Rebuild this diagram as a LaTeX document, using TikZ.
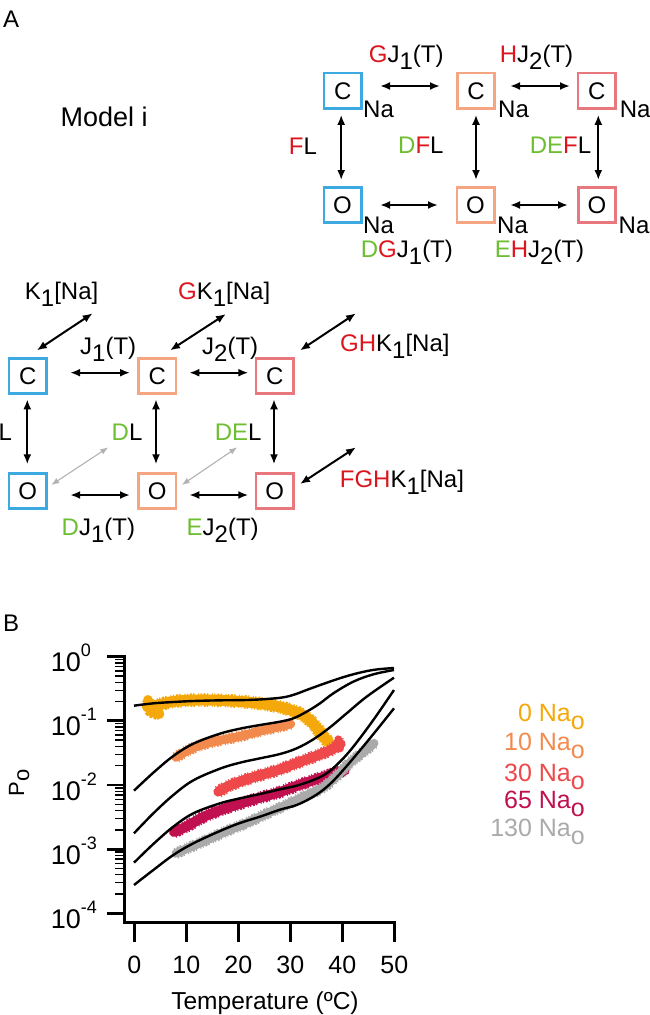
\documentclass[tikz,border=0pt]{standalone}
\usepackage{fontspec}
\setmainfont{Liberation Sans}
\usetikzlibrary{arrows.meta}
\definecolor{cblue}{RGB}{60,170,225}
\definecolor{cpeach}{RGB}{245,165,130}
\definecolor{cpink}{RGB}{232,120,125}
\definecolor{cred}{RGB}{220,20,30}
\definecolor{cgreen}{RGB}{110,190,50}
\definecolor{na0}{RGB}{245,168,10}
\definecolor{na10}{RGB}{242,138,78}
\definecolor{na30}{RGB}{238,72,74}
\definecolor{na65}{RGB}{192,16,80}
\definecolor{na130}{RGB}{170,170,170}
\newcommand\dn[1]{\raisebox{-7pt}{#1}}
\newcommand\rd[1]{\textcolor{cred}{#1}}
\newcommand\gn[1]{\textcolor{cgreen}{#1}}
\newcommand\ex[1]{\raisebox{15pt}{\fontsize{18}{18}\selectfont #1}}
\newcommand\bandplot[3]{%
  \draw[#1, line width=#2, line join=round, line cap=round] plot[smooth, tension=0.6] coordinates {#3};
  \draw[#1, line width=#2+2.5pt, dash pattern=on 1pt off 2pt on 2pt off 1pt on 1.5pt off 3.5pt on 1pt off 1.5pt] plot[smooth, tension=0.6] coordinates {#3};}
\begin{document}
\begin{tikzpicture}[x=1pt,y=-1pt,
  lbl/.style={font=\fontsize{24}{28}\selectfont, inner sep=0pt, anchor=base west},
  st/.style={draw=#1, line width=2.6pt, minimum width=37.4pt, minimum height=35.4pt, inner sep=0pt, font=\fontsize{24}{28}\selectfont},
  arr/.style={{Latex[length=10pt,width=8pt]}-{Latex[length=10pt,width=8pt]}, line width=2pt},
  garr/.style={{Latex[length=8pt,width=6pt]}-{Latex[length=8pt,width=6pt]}, line width=1.1pt, draw=black!30},
  model/.style={line width=2.4pt, line join=round},
  tick/.style={font=\fontsize{25}{28}\selectfont, inner sep=0pt}]
\useasboundingbox (0,0) rectangle (649,1015);

% ---------- Panel A ----------
\node[lbl] (A) at (3,27) {A};
\node[lbl, font=\fontsize{27}{30}\selectfont] (model) at (60.5,126.7) {Model i};

% top model boxes
\node[st=cblue]  (tc1) at (342.7,90.8) {C};
\node[st=cpeach] (tc2) at (476,90.8) {C};
\node[st=cpink]  (tc3) at (596.7,90.8) {C};
\node[st=cblue]  (to1) at (342.5,205) {O};
\node[st=cpeach] (to2) at (475.5,205) {O};
\node[st=cpink]  (to3) at (597,205) {O};

\node[lbl] (na1) at (363,117.3) {Na};
\node[lbl] (na2) at (498,117.3) {Na};
\node[lbl] (na3) at (619.7,117.3) {Na};
\node[lbl] (na4) at (363,233.3) {Na};
\node[lbl] (na5) at (497,233.3) {Na};
\node[lbl] (na6) at (618.5,233.3) {Na};

\draw[arr] ([shift={(17.3,-4.8)}]tc1.east) -- ([shift={(-16,-4.8)}]tc2.west);
\draw[arr] ([shift={(14,-4.8)}]tc2.east) -- ([shift={(-6.7,-4.8)}]tc3.west);
\draw[arr] ([shift={(17.5,0)}]to1.east) -- ([shift={(-17.5,0)}]to2.west);
\draw[arr] ([shift={(14.5,0)}]to2.east) -- ([shift={(-9,0)}]to3.west);
\draw[arr] ([shift={(-1.5,5)}]tc1.south) -- ([shift={(-1.3,-6)}]to1.north);
\draw[arr] ([shift={(0,5)}]tc2.south) -- ([shift={(0.5,-6)}]to2.north);
\draw[arr] ([shift={(1.6,5)}]tc3.south) -- ([shift={(1.3,-6)}]to3.north);

\node[lbl] (l1) at (368.7,62.7) {\rd{G}J\dn{1}(T)};
\node[lbl] (l2) at (499.7,62.7) {\rd{H}J\dn{2}(T)};
\node[lbl] (l3) at (288.7,154.3) {\rd{F}L};
\node[lbl] (l4) at (398,153.5) {\gn{D}\rd{F}L};
\node[lbl] (l5) at (529.7,153.5) {\gn{DE}\rd{F}L};
\node[lbl] (l6) at (360.7,257.3) {\gn{D}\rd{G}J\dn{1}(T)};
\node[lbl] (l7) at (494.7,257.3) {\gn{E}\rd{H}J\dn{2}(T)};

% lower model boxes
\node[st=cblue]  (lc1) at (27.8,376) {C};
\node[st=cpeach] (lc2) at (157.3,376) {C};
\node[st=cpink]  (lc3) at (274.8,376) {C};
\node[st=cblue]  (lo1) at (27.8,491) {O};
\node[st=cpeach] (lo2) at (157.3,491) {O};
\node[st=cpink]  (lo3) at (274.8,491) {O};

\draw[arr] ([shift={(22.4,-3.3)}]lc1.east) -- ([shift={(-7.3,-3.3)}]lc2.west);
\draw[arr] ([shift={(12,-3.3)}]lc2.east) -- ([shift={(-6.5,-3.3)}]lc3.west);
\draw[arr] ([shift={(22.4,4)}]lo1.east) -- ([shift={(-7.3,4)}]lo2.west);
\draw[arr] ([shift={(12,4)}]lo2.east) -- ([shift={(-6.5,4)}]lo3.west);
\draw[arr] ([shift={(-0.5,4.3)}]lc1.south) -- ([shift={(-0.5,-7.7)}]lo1.north);
\draw[arr] ([shift={(-1.3,4.3)}]lc2.south) -- ([shift={(-1.3,-7.7)}]lo2.north);
\draw[arr] ([shift={(-0.8,4.3)}]lc3.south) -- ([shift={(-0.8,-7.7)}]lo3.north);

\coordinate (k1) at (92.7,313.3);
\coordinate (k2) at (226,314);
\coordinate (k3) at (356,313.3);
\coordinate (k4) at (356,447.3);
\coordinate (g1) at (108.3,447.3);
\coordinate (g2) at (237.3,447.3);
\draw[arr] ([shift={(-11,-6.6)}]lc1.north east) -- (k1);
\draw[arr] ([shift={(-7.3,-6.6)}]lc2.north east) -- (k2);
\draw[arr] ([shift={(5.2,-6.6)}]lc3.north east) -- (k3);
\draw[arr] ([shift={(5.2,-7)}]lo3.east) -- (k4);
\draw[garr] ([shift={(3.4,-6)}]lo1.east) -- (g1);
\draw[garr] ([shift={(4.4,-6)}]lo2.east) -- (g2);

\node[lbl] (m1) at (24.7,299) {K\dn{1}[Na]};
\node[lbl] (m2) at (178,299) {\rd{G}K\dn{1}[Na]};
\node[lbl] (m3) at (80,354) {J\dn{1}(T)};
\node[lbl] (m4) at (202,354) {J\dn{2}(T)};
\node[lbl] (m5) at (340,351.7) {\rd{GH}K\dn{1}[Na]};
\node[lbl] (m6) at (339.7,487) {\rd{FGH}K\dn{1}[Na]};
\node[lbl] (m7) at (-1.5,440) {L};
\node[lbl] (m8) at (111.5,440) {\gn{D}L};
\node[lbl] (m9) at (214.7,440) {\gn{DE}L};
\node[lbl] (m10) at (61.5,535) {\gn{D}J\dn{1}(T)};
\node[lbl] (m11) at (186.5,535) {\gn{E}J\dn{2}(T)};

% ---------- Panel B ----------
\node[lbl] (B) at (3,631.7) {B};

% data bands and model curves (coordinates in 1/3 px)
\begin{scope}[shift={(120,640)}, x=0.33333pt, y=-0.33333pt]
  \bandplot{na0}{11pt}{(82,200) (110,196) (150,186) (200,181) (260,180) (320,182) (380,186) (430,192) (480,201) (520,213) (550,226) (575,246) (595,270) (610,290) (626,306)}
  \bandplot{na0}{10pt}{(84,180) (92,212) (118,222)}
  \bandplot{na10}{9pt}{(168,352) (200,333) (240,316) (300,301) (360,289) (420,273) (470,262) (512,252)}
  \bandplot{na30}{10pt}{(295,455) (330,436) (380,418) (430,403) (480,388) (530,369) (580,351) (630,331) (662,312)}
  \bandplot{na30}{8pt}{(655,298) (658,312) (660,325)}
  \bandplot{na65}{10pt}{(162,576) (200,559) (250,531) (300,511) (360,491) (420,473) (480,456) (540,434) (600,414) (650,397) (674,392)}
  \bandplot{na130}{9pt}{(168,640) (200,626) (260,600) (320,573) (380,549) (440,521) (500,494) (560,466) (610,442) (650,408) (690,368) (730,336) (762,310)}

  \draw[model] plot[smooth, tension=0.6] coordinates {(42,197) (100,190) (160,186) (220,183) (300,181) (380,180) (440,177) (490,172) (525,163) (565,148) (615,130) (665,113) (715,99) (765,89) (822,84)};
  \draw[model] plot[smooth, tension=0.6] coordinates {(42,452) (100,398) (160,348) (220,311) (300,281) (360,266) (420,255) (480,245) (520,235) (560,215) (600,190) (640,160) (700,125) (760,103) (822,90)};
  \draw[model] plot[smooth, tension=0.6] coordinates {(42,580) (100,520) (160,465) (220,421) (300,386) (360,368) (420,355) (480,342) (530,325) (580,298) (630,262) (680,220) (740,170) (822,113)};
  \draw[model] plot[smooth, tension=0.6] coordinates {(42,668) (100,612) (160,560) (220,520) (300,490) (360,475) (420,462) (480,448) (530,437) (580,420) (620,400) (660,365) (700,320) (760,240) (822,150)};
  \draw[model] plot[smooth, tension=0.6] coordinates {(42,735) (100,690) (160,645) (220,610) (300,573) (360,549) (420,530) (480,509) (530,495) (580,470) (620,441) (660,401) (720,331) (770,270) (822,205)};
\end{scope}

% axes
\draw[line width=3pt] (124,655.3) -- (124,922.5) -- (395.8,922.5);
\foreach \k in {0,...,4}
  \draw[line width=2.8pt] (106.5,656.7+64.15*\k) -- (124,656.7+64.15*\k);
\foreach \k in {1,...,4}
  \foreach \m in {2,...,9}
    \draw[line width=1.4pt] (115,{656.7+64.15*\k-64.15*ln(\m)/ln(10)}) -- (124,{656.7+64.15*\k-64.15*ln(\m)/ln(10)});
\foreach \k in {0,...,5}
  \draw[line width=2.8pt] (134.3+52*\k,922.5) -- (134.3+52*\k,941.7);

\node[tick, anchor=base west, font=\fontsize{27}{30}\selectfont] (y0) at (50.6,671.7) {10\ex{0}};
\node[tick, anchor=base west, font=\fontsize{27}{30}\selectfont] (y1) at (50.6,735.9) {10\ex{-1}};
\node[tick, anchor=base west, font=\fontsize{27}{30}\selectfont] (y2) at (50.6,800.0) {10\ex{-2}};
\node[tick, anchor=base west, font=\fontsize{27}{30}\selectfont] (y3) at (50.6,864.2) {10\ex{-3}};
\node[tick, anchor=base west, font=\fontsize{27}{30}\selectfont] (y4) at (50.6,928.3) {10\ex{-4}};
\foreach \k/\t in {0/0,1/10,2/20,3/30,4/40,5/50}
  \node[tick, anchor=base] (x\k) at (134.3+52*\k,973) {\t};
\node[tick, anchor=base, font=\fontsize{24.5}{28}\selectfont] (xl) at (265,1009) {Temperature (ºC)};
\node[tick, anchor=base, rotate=90, font=\fontsize{22}{26}\selectfont] (yl) at (24,783) {P\raisebox{-5pt}{o}};

% legend
\node[tick, anchor=base east, text=na0]   (g0)  at (585,721.7) {0 Na\raisebox{-8pt}{o}};
\node[tick, anchor=base east, text=na10]  (g10) at (585,750.5) {10 Na\raisebox{-8pt}{o}};
\node[tick, anchor=base east, text=na30]  (g30) at (585,781.0) {30 Na\raisebox{-8pt}{o}};
\node[tick, anchor=base east, text=na65]  (g65) at (585,808.3) {65 Na\raisebox{-8pt}{o}};
\node[tick, anchor=base east, text=na130] (g130) at (585,836.7) {130 Na\raisebox{-8pt}{o}};
\end{tikzpicture}
\end{document}
